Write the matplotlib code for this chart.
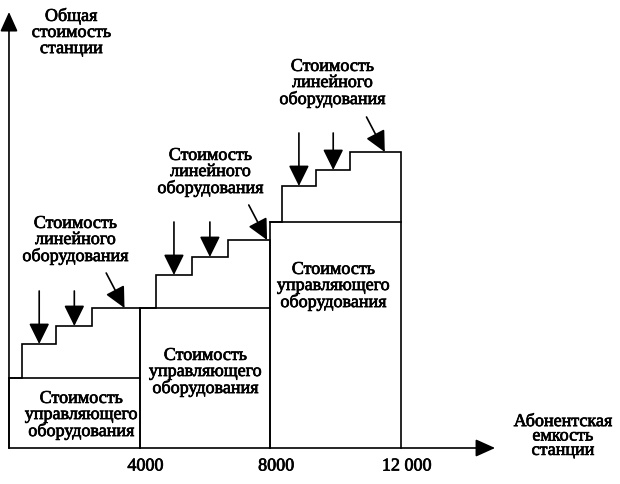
import matplotlib
matplotlib.use("Agg")
import matplotlib.pyplot as plt
import matplotlib.patheffects as pe

# subscriber capacity where each switching stage ends
stage_edges = [0, 4000, 8000, 12000]
tick_labels = ["4000", "8000", "12 000"]

# cost of control equipment per stage (relative units)
control_cost = [70, 140, 226]

# line equipment added in steps: capacity where each step starts, total cost after step
step_start = [[400, 1450, 2550],
              [4500, 5600, 6700],
              [8350, 9400, 10450]]
step_cost = [[104, 122, 140],
             [173, 191, 208],
             [262, 278, 296]]

ctrl_label = "Стоимость\nуправляющего\nоборудования"
line_label = "Стоимость\nлинейного\nоборудования"

plt.rcParams['font.family'] = ['Liberation Serif', 'DejaVu Serif']

fig = plt.figure(figsize=(6.2, 4.85), dpi=100)
ax = fig.add_axes([0, 0, 1, 1])
ax.set_xlim(-275, 18704)
ax.set_ylim(-36, 449)
ax.axis('off')

lw = 1.2
arrow_kw = dict(arrowstyle='-|>,head_length=0.85,head_width=0.42',
                color='black', lw=lw, mutation_scale=15, shrinkA=0, shrinkB=0)
axis_kw = dict(arrowstyle='-|>,head_length=1.0,head_width=0.45',
               color='black', lw=lw, mutation_scale=12, shrinkA=0, shrinkB=0)

# axes with arrowheads
ax.annotate('', xy=(0, 436), xytext=(0, 0), arrowprops=axis_kw)
ax.annotate('', xy=(14880, 0), xytext=(0, 0), arrowprops=axis_kw)

for i in range(3):
    x0, x1 = stage_edges[i], stage_edges[i + 1]
    c = control_cost[i]
    xs = [x0, x0, step_start[i][0], step_start[i][0]]
    ys = [0, c, c, step_cost[i][0]]
    for k in range(1, 3):
        xs += [step_start[i][k], step_start[i][k]]
        ys += [step_cost[i][k - 1], step_cost[i][k]]
    xs += [x1, x1]
    ys += [step_cost[i][2], 0]
    ax.plot(xs, ys, color='black', lw=lw, solid_joinstyle='miter')
    ax.plot([x0, x1], [c, c], color='black', lw=lw)

    # arrows pointing at the steps of line equipment
    ends = step_start[i][1:] + [x1]
    top = step_cost[i][0] + 53
    for k in range(2):
        xm = (step_start[i][k] + ends[k]) / 2
        ax.annotate('', xy=(xm, step_cost[i][k]), xytext=(xm, top),
                    arrowprops=arrow_kw)
    xd = step_start[i][2] + 0.68 * (ends[2] - step_start[i][2])
    if i == 1:
        xd = ends[2] - 100
    ax.annotate('', xy=(xd, step_cost[i][2]), xytext=(xd - 560, step_cost[i][2] + 35),
                arrowprops=arrow_kw)

fs = 13
thick = [pe.withStroke(linewidth=0.5, foreground='black')]
txt = dict(ha='center', va='center', fontsize=fs, linespacing=0.93,
           path_effects=thick)

# stage labels
ax.text(2200, 33, ctrl_label, **txt)
ax.text(6000, 76, ctrl_label, **txt)
ax.text(9918, 162, ctrl_label, **txt)
ax.text(2020, 208, line_label, **txt)
ax.text(6153, 276, line_label, **txt)
ax.text(9888, 365, line_label, **txt)

# axis titles
ax.text(1900, 416, "Общая\nстоимость\nстанции", **txt)
ax.text(16950, 12, "Абонентская\nемкость\nстанции", ha='center', va='center',
        fontsize=fs, linespacing=0.8, path_effects=thick)

# tick labels under the stage boundaries
for xv, lab in zip(stage_edges[1:], tick_labels):
    ax.annotate(lab, xy=(xv, -18), xytext=(4, 0), textcoords='offset points',
                ha='center', va='center', fontsize=fs, path_effects=thick)

fig.savefig("out.png", dpi=100, facecolor='white')
